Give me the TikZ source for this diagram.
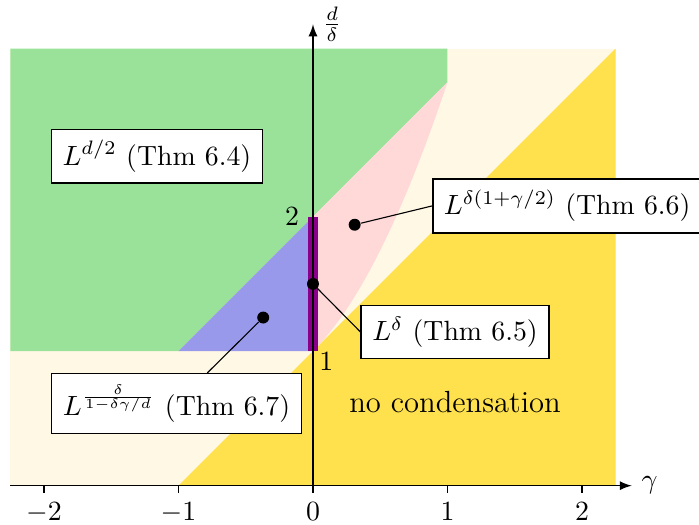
\documentclass[tikz,border=0pt]{standalone}
\usepackage{amsmath,amssymb}
\usepackage{xcolor}
\usepackage{tikz}
\usetikzlibrary{arrows, positioning}
\definecolor{regiongreen}{RGB}{154,226,154}
\definecolor{regioncream}{RGB}{255,248,228}
\definecolor{regionyellow}{RGB}{255,225,77}
\definecolor{regionpink}{RGB}{255,216,216}
\definecolor{regionblue}{RGB}{153,153,235}
\definecolor{barpurple}{RGB}{139,0,139}
\tikzstyle{thmbox} = [draw=black, fill=white, inner sep=4pt, line width=0.5pt]
\tikzstyle{pointdot} = [circle, fill=black, inner sep=0pt, minimum size=4.3pt]
\tikzstyle{axis} = [line width=0.5pt, ->, >=latex]

\begin{document}
\begin{tikzpicture}[x=1.7cm, y=1.7cm]
    \useasboundingbox (-2.327,-0.292) rectangle (2.870,3.611);

    % Regions
    \fill[regioncream] (-2.25,0) rectangle (2.25,3.25);                              % background
    \fill[regiongreen] (-2.25,1) -- (-1,1) -- (1,3) -- (1,3.25) -- (-2.25,3.25) -- cycle; % L^{d/2}
    \fill[regionyellow] (-1,0) -- (2.25,3.25) -- (2.25,0) -- cycle;                  % no condensation
    \fill[regionblue] (-1,1) -- (0,2) -- (0,1) -- cycle;                             % Thm 6.7
    \fill[regionpink] (0,1) -- (0,2) -- (1,3)
        -- plot[domain=1:0, samples=40, smooth] (\x,{1+\x+\x*\x}) -- cycle;        % Thm 6.6

    % Thm 6.5 segment
    \draw[barpurple, line width=3.3pt] (0,1) -- (0,2);

    % Axes
    \draw[axis] (-2.25,0) -- (2.37,0) node[right] (gam) {$\gamma$};
    \draw[axis] (0,0) -- (0,3.43) node[right] (ddel) {$\frac{d}{\delta}$};

    % Ticks
    \foreach \x/\lab in {-2/$-2$, -1/$-1$, 0/$0$, 1/$1$, 2/$2$} {
        \draw (\x,0) -- (\x,-0.055);
        \node[below] (tick\x) at (\x,-0.055) {\lab};
    }
    \node[left] (ytwo) at (-0.03,2) {$2$};
    \node (yone) at (0.1,0.92) {$1$};

    % Points
    \node[pointdot] (p67) at (-0.37,1.25) {};
    \node[pointdot] (p65) at (0,1.5) {};
    \node[pointdot] (p66) at (0.31,1.94) {};

    % Labels
    \node[thmbox] (t64) at (-1.16,2.45) {$L^{d/2}$ (Thm 6.4)};
    \node[thmbox] (t66) at (1.89,2.08) {$L^{\delta(1+\gamma/2)}$ (Thm 6.6)};
    \node[thmbox] (t65) at (1.056,1.143) {$L^{\delta}$ (Thm 6.5)};
    \node[thmbox] (t67) at (-1.015,0.611) {$L^{\frac{\delta}{1-\delta\gamma/d}}$ (Thm 6.7)};
    \node[font=\fontsize{11}{13}\selectfont] (nocond) at (1.056,0.622) {no condensation};

    % Connectors
    \draw (p66) -- (t66.west);
    \draw (p65) -- (t65.west);
    \draw (p67) -- (t67);
\end{tikzpicture}
\end{document}
